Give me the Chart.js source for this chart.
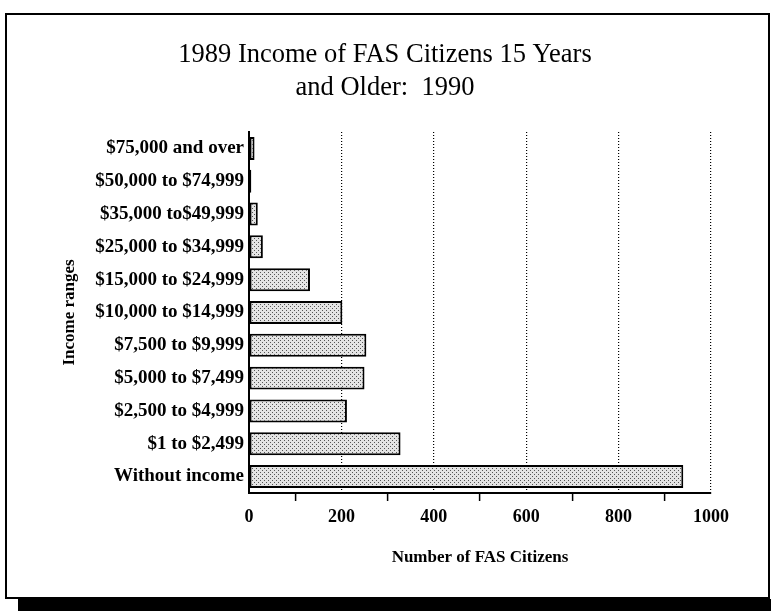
<!DOCTYPE html>
<html>
<head>
<meta charset="utf-8">
<script src="https://cdn.jsdelivr.net/npm/chart.js@4"></script>
<style>
  html, body { margin: 0; padding: 0; background: #fff; }
  #wrap { position: relative; width: 771px; height: 611px; overflow: hidden; }
  #frame {
    position: absolute; left: 5px; top: 13px; width: 761px; height: 582px;
    border: 2px solid #000;
  }
  #frame2 { position: absolute; left: 18px; top: 599px; width: 760px; height: 14px; background: #000; }
  canvas { position: absolute; left: 0; top: 0; }
</style>
</head>
<body>
<div id="wrap">
  <div id="frame"></div>
  <div id="frame2"></div>
  <canvas id="myChart" width="771" height="611"></canvas>
</div>
<script>
// Income ranges, top to bottom as in the picture
var categories = [
  "$75,000 and over",
  "$50,000 to $74,999",
  "$35,000 to$49,999",
  "$25,000 to $34,999",
  "$15,000 to $24,999",
  "$10,000 to $14,999",
  "$7,500 to $9,999",
  "$5,000 to $7,499",
  "$2,500 to $4,999",
  "$1 to $2,499",
  "Without income"
];
var citizens = [12, 5, 19, 30, 132, 202, 254, 250, 212, 328, 940];

var titleLines = ["1989 Income of FAS Citizens 15 Years", "and Older:  1990"];
var xTitle = "Number of FAS Citizens";
var yTitle = "Income ranges";
var xMin = 0, xMax = 1000, xStep = 100;

// stipple fill like the old print
function makeDots() {
  var c = document.createElement('canvas');
  c.width = 4; c.height = 4;
  var g = c.getContext('2d');
  g.fillStyle = '#e4e4e4';
  g.fillRect(0, 0, 4, 4);
  g.fillStyle = '#555';
  g.fillRect(0, 0, 1, 1);
  g.fillRect(2, 2, 1, 1);
  return g.createPattern(c, 'repeat');
}

var serif = "'Liberation Serif', 'Times New Roman', serif";

var ctx = document.getElementById("myChart");
var myChart = new Chart(ctx, {
  type: 'bar',
  data: {
    labels: categories,
    datasets: [{
      data: citizens,
      backgroundColor: makeDots(),
      borderColor: '#000',
      borderWidth: 2,
      borderSkipped: false,
      barPercentage: 0.7,
      categoryPercentage: 1.0
    }]
  },
  options: {
    indexAxis: 'y',
    responsive: false,
    animation: false,
    // left/right kept equal-ish so the title sits centred on the page
    layout: { padding: { left: 59, right: 60, top: 39, bottom: 34 } },
    plugins: {
      legend: { display: false },
      tooltip: { enabled: false },
      title: {
        display: true,
        text: titleLines,
        color: '#000',
        font: { family: serif, size: 26.5, weight: 'normal', lineHeight: 1.245 },
        padding: { top: 0, bottom: 27 }
      }
    },
    scales: {
      x: {
        min: xMin,
        max: xMax,
        ticks: {
          stepSize: xStep,
          color: '#000',
          padding: 6,
          font: { family: serif, size: 18, weight: 'bold' },
          callback: function (v) { return v % 200 === 0 ? v : ''; }
        },
        grid: {
          color: function (c) {
            var v = c.tick && c.tick.value;
            return (v > 0 && v % 200 === 0) ? '#000' : 'rgba(0,0,0,0)';
          },
          lineWidth: 1.2,
          tickColor: function (c) {
            var v = c.tick && c.tick.value;
            return (v % 200 === 100) ? '#000' : 'rgba(0,0,0,0)';
          },
          tickLength: 8,
          tickWidth: 1.5
        },
        border: { display: true, color: '#000', width: 2, dash: [1, 2] },
        title: {
          display: true,
          text: xTitle,
          color: '#000',
          font: { family: serif, size: 17, weight: 'bold' },
          padding: { top: 13, bottom: 9 }
        }
      },
      y: {
        ticks: {
          color: '#000',
          padding: 5,
          font: { family: serif, size: 19, weight: 'bold' }
        },
        grid: { display: false, drawTicks: false },
        border: { display: true, color: '#000', width: 2 },
        title: {
          display: true,
          text: yTitle,
          color: '#000',
          font: { family: serif, size: 17, weight: 'bold' },
          padding: { top: 0, bottom: 0 }
        },
        afterFit: function (scale) { scale.width = 190; }
      }
    }
  }
});
</script>
</body>
</html>
